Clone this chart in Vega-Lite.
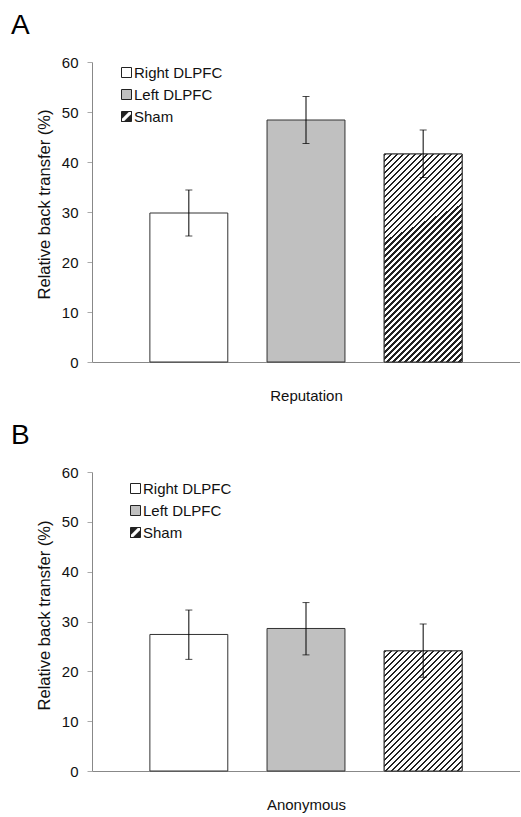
{
  "$schema": "https://vega.github.io/schema/vega-lite/v6.json",
  "padding": {"left": 11, "top": 12, "right": 0, "bottom": 5},
  "config": {
    "font": "Liberation Sans",
    "view": {"stroke": null},
    "axis": {"labelFont": "Liberation Sans", "titleFont": "Liberation Sans", "labelFontSize": 15, "titleFontSize": 15, "titleFontWeight": "normal", "labelColor": "#111", "titleColor": "#111", "grid": false, "domainColor": "#888"},
    "legend": {"orient": "none", "title": null, "symbolType": "square", "symbolSize": 100, "symbolStrokeColor": "#222", "symbolStrokeWidth": 1, "labelFont": "Liberation Sans", "labelFontSize": 15, "labelColor": "#111", "rowPadding": 6, "labelOffset": 0, "padding": 0}
  },
  "data": {"values": [
    {"panel": "A", "cond": "Right DLPFC", "mean": 29.8, "lo": 25.2, "hi": 34.4},
    {"panel": "A", "cond": "Left DLPFC", "mean": 48.4, "lo": 43.7, "hi": 53.1},
    {"panel": "A", "cond": "Sham", "mean": 41.6, "lo": 36.9, "hi": 46.4},
    {"panel": "B", "cond": "Right DLPFC", "mean": 27.4, "lo": 22.4, "hi": 32.3},
    {"panel": "B", "cond": "Left DLPFC", "mean": 28.6, "lo": 23.3, "hi": 33.8},
    {"panel": "B", "cond": "Sham", "mean": 24.1, "lo": 18.8, "hi": 29.5}
  ]},
  "spacing": 110,
  "bounds": "flush",
  "resolve": {"scale": {"color": "independent", "x": "independent", "y": "independent"}, "legend": {"color": "independent"}},
  "vconcat": [
    {
      "title": {"text": "A", "anchor": "start", "frame": "group", "dx": -81, "fontSize": 28, "fontWeight": "normal", "color": "#000", "offset": 15},
      "width": 428,
      "height": 300,
      "transform": [{"filter": "datum.panel === 'A'"}],
      "encoding": {
        "x": {"field": "cond", "type": "nominal", "sort": ["Right DLPFC", "Left DLPFC", "Sham"], "scale": {"paddingInner": 0.335, "paddingOuter": 0.494}, "axis": {"title": "Reputation", "labels": false, "ticks": false, "titlePadding": 26, "domainColor": "#888"}}
      },
      "layer": [
        {
          "mark": {"type": "bar", "stroke": "#333", "strokeWidth": 1},
          "encoding": {
            "y": {"field": "mean", "type": "quantitative", "title": "Relative back transfer (%)", "scale": {"domain": [0, 60]}, "axis": {"values": [0, 10, 20, 30, 40, 50, 60], "tickSize": 5, "tickColor": "#aaa", "labelPadding": 9, "titlePadding": 9, "titleY": 142, "titleFontSize": 16.5}},
            "color": {"field": "cond", "type": "nominal", "scale": {"domain": ["Right DLPFC", "Left DLPFC", "Sham"], "range": ["#ffffff", "#c0c0c0", "#222222"]}, "legend": {"legendX": 27, "legendY": 3, "encode": {"symbols": {"update": {"stroke": {"value": "#222"}, "strokeWidth": {"value": 1}, "shape": [{"test": "datum.value === 'Sham'", "value": "M-1,-1L1,-1L1,1L-1,1ZM-1,1L-0.45,1L1,-0.45L1,-1L0.45,-1L-1,0.45Z"}, {"value": "square"}]}}}}}
          }
        },
        {
          "transform": [{"filter": "datum.cond === 'Sham'"}],
          "mark": {"type": "bar", "stroke": "#333", "strokeWidth": 1, "fill": {"gradient": "linear", "x1": 0, "y1": 0, "x2": 0.4722, "y2": 1.2622, "stops": [
            {"offset":0,"color":"#222"},{"offset":0.008,"color":"#222"},{"offset":0.008,"color":"#fff"},{"offset":0.02,"color":"#fff"},
            {"offset":0.02,"color":"#222"},{"offset":0.028,"color":"#222"},{"offset":0.028,"color":"#fff"},{"offset":0.04,"color":"#fff"},
            {"offset":0.04,"color":"#222"},{"offset":0.048,"color":"#222"},{"offset":0.048,"color":"#fff"},{"offset":0.06,"color":"#fff"},
            {"offset":0.06,"color":"#222"},{"offset":0.068,"color":"#222"},{"offset":0.068,"color":"#fff"},{"offset":0.08,"color":"#fff"},
            {"offset":0.08,"color":"#222"},{"offset":0.088,"color":"#222"},{"offset":0.088,"color":"#fff"},{"offset":0.1,"color":"#fff"},
            {"offset":0.1,"color":"#222"},{"offset":0.108,"color":"#222"},{"offset":0.108,"color":"#fff"},{"offset":0.12,"color":"#fff"},
            {"offset":0.12,"color":"#222"},{"offset":0.128,"color":"#222"},{"offset":0.128,"color":"#fff"},{"offset":0.14,"color":"#fff"},
            {"offset":0.14,"color":"#222"},{"offset":0.148,"color":"#222"},{"offset":0.148,"color":"#fff"},{"offset":0.16,"color":"#fff"},
            {"offset":0.16,"color":"#222"},{"offset":0.168,"color":"#222"},{"offset":0.168,"color":"#fff"},{"offset":0.18,"color":"#fff"},
            {"offset":0.18,"color":"#222"},{"offset":0.188,"color":"#222"},{"offset":0.188,"color":"#fff"},{"offset":0.2,"color":"#fff"},
            {"offset":0.2,"color":"#222"},{"offset":0.208,"color":"#222"},{"offset":0.208,"color":"#fff"},{"offset":0.22,"color":"#fff"},
            {"offset":0.22,"color":"#222"},{"offset":0.228,"color":"#222"},{"offset":0.228,"color":"#fff"},{"offset":0.24,"color":"#fff"},
            {"offset":0.24,"color":"#222"},{"offset":0.248,"color":"#222"},{"offset":0.248,"color":"#fff"},{"offset":0.26,"color":"#fff"},
            {"offset":0.26,"color":"#222"},{"offset":0.268,"color":"#222"},{"offset":0.268,"color":"#fff"},{"offset":0.28,"color":"#fff"},
            {"offset":0.28,"color":"#222"},{"offset":0.288,"color":"#222"},{"offset":0.288,"color":"#fff"},{"offset":0.3,"color":"#fff"},
            {"offset":0.3,"color":"#222"},{"offset":0.308,"color":"#222"},{"offset":0.308,"color":"#fff"},{"offset":0.32,"color":"#fff"},
            {"offset":0.32,"color":"#222"},{"offset":0.328,"color":"#222"},{"offset":0.328,"color":"#fff"},{"offset":0.34,"color":"#fff"},
            {"offset":0.34,"color":"#222"},{"offset":0.348,"color":"#222"},{"offset":0.348,"color":"#fff"},{"offset":0.36,"color":"#fff"},
            {"offset":0.36,"color":"#222"},{"offset":0.368,"color":"#222"},{"offset":0.368,"color":"#fff"},{"offset":0.38,"color":"#fff"},
            {"offset":0.38,"color":"#222"},{"offset":0.388,"color":"#222"},{"offset":0.388,"color":"#fff"},{"offset":0.4,"color":"#fff"},
            {"offset":0.4,"color":"#222"},{"offset":0.408,"color":"#222"},{"offset":0.408,"color":"#fff"},{"offset":0.42,"color":"#fff"},
            {"offset":0.42,"color":"#222"},{"offset":0.428,"color":"#222"},{"offset":0.428,"color":"#fff"},{"offset":0.44,"color":"#fff"},
            {"offset":0.44,"color":"#222"},{"offset":0.448,"color":"#222"},{"offset":0.448,"color":"#fff"},{"offset":0.46,"color":"#fff"},
            {"offset":0.46,"color":"#222"},{"offset":0.468,"color":"#222"},{"offset":0.468,"color":"#fff"},{"offset":0.48,"color":"#fff"},
            {"offset":0.48,"color":"#222"},{"offset":0.488,"color":"#222"},{"offset":0.488,"color":"#fff"},{"offset":0.5,"color":"#fff"},
            {"offset":0.5,"color":"#222"},{"offset":0.508,"color":"#222"},{"offset":0.508,"color":"#fff"},{"offset":0.52,"color":"#fff"},
            {"offset":0.52,"color":"#222"},{"offset":0.528,"color":"#222"},{"offset":0.528,"color":"#fff"},{"offset":0.54,"color":"#fff"},
            {"offset":0.54,"color":"#222"},{"offset":0.548,"color":"#222"},{"offset":0.548,"color":"#fff"},{"offset":0.56,"color":"#fff"},
            {"offset":0.56,"color":"#222"},{"offset":0.568,"color":"#222"},{"offset":0.568,"color":"#fff"},{"offset":0.58,"color":"#fff"},
            {"offset":0.58,"color":"#222"},{"offset":0.588,"color":"#222"},{"offset":0.588,"color":"#fff"},{"offset":0.6,"color":"#fff"},
            {"offset":0.6,"color":"#222"},{"offset":0.608,"color":"#222"},{"offset":0.608,"color":"#fff"},{"offset":0.62,"color":"#fff"},
            {"offset":0.62,"color":"#222"},{"offset":0.628,"color":"#222"},{"offset":0.628,"color":"#fff"},{"offset":0.64,"color":"#fff"},
            {"offset":0.64,"color":"#222"},{"offset":0.648,"color":"#222"},{"offset":0.648,"color":"#fff"},{"offset":0.66,"color":"#fff"},
            {"offset":0.66,"color":"#222"},{"offset":0.668,"color":"#222"},{"offset":0.668,"color":"#fff"},{"offset":0.68,"color":"#fff"},
            {"offset":0.68,"color":"#222"},{"offset":0.688,"color":"#222"},{"offset":0.688,"color":"#fff"},{"offset":0.7,"color":"#fff"},
            {"offset":0.7,"color":"#222"},{"offset":0.708,"color":"#222"},{"offset":0.708,"color":"#fff"},{"offset":0.72,"color":"#fff"},
            {"offset":0.72,"color":"#222"},{"offset":0.728,"color":"#222"},{"offset":0.728,"color":"#fff"},{"offset":0.74,"color":"#fff"},
            {"offset":0.74,"color":"#222"},{"offset":0.748,"color":"#222"},{"offset":0.748,"color":"#fff"},{"offset":0.76,"color":"#fff"},
            {"offset":0.76,"color":"#222"},{"offset":0.768,"color":"#222"},{"offset":0.768,"color":"#fff"},{"offset":0.78,"color":"#fff"},
            {"offset":0.78,"color":"#222"},{"offset":0.788,"color":"#222"},{"offset":0.788,"color":"#fff"},{"offset":0.8,"color":"#fff"},
            {"offset":0.8,"color":"#222"},{"offset":0.808,"color":"#222"},{"offset":0.808,"color":"#fff"},{"offset":0.82,"color":"#fff"},
            {"offset":0.82,"color":"#222"},{"offset":0.828,"color":"#222"},{"offset":0.828,"color":"#fff"},{"offset":0.84,"color":"#fff"},
            {"offset":0.84,"color":"#222"},{"offset":0.848,"color":"#222"},{"offset":0.848,"color":"#fff"},{"offset":0.86,"color":"#fff"},
            {"offset":0.86,"color":"#222"},{"offset":0.868,"color":"#222"},{"offset":0.868,"color":"#fff"},{"offset":0.88,"color":"#fff"},
            {"offset":0.88,"color":"#222"},{"offset":0.888,"color":"#222"},{"offset":0.888,"color":"#fff"},{"offset":0.9,"color":"#fff"},
            {"offset":0.9,"color":"#222"},{"offset":0.908,"color":"#222"},{"offset":0.908,"color":"#fff"},{"offset":0.92,"color":"#fff"},
            {"offset":0.92,"color":"#222"},{"offset":0.928,"color":"#222"},{"offset":0.928,"color":"#fff"},{"offset":0.94,"color":"#fff"},
            {"offset":0.94,"color":"#222"},{"offset":0.948,"color":"#222"},{"offset":0.948,"color":"#fff"},{"offset":0.96,"color":"#fff"},
            {"offset":0.96,"color":"#222"},{"offset":0.968,"color":"#222"},{"offset":0.968,"color":"#fff"},{"offset":0.98,"color":"#fff"},
            {"offset":0.98,"color":"#222"},{"offset":0.988,"color":"#222"},{"offset":0.988,"color":"#fff"},{"offset":1,"color":"#fff"}
          ]}},
          "encoding": {"y": {"field": "mean", "type": "quantitative", "title": "Relative back transfer (%)"}}
        },
        {
          "mark": {"type": "rule", "color": "#000", "strokeWidth": 1},
          "encoding": {"y": {"field": "lo", "type": "quantitative", "title": "Relative back transfer (%)"}, "y2": {"field": "hi"}}
        },
        {
          "mark": {"type": "tick", "color": "#000", "size": 7, "thickness": 1},
          "encoding": {"y": {"field": "lo", "type": "quantitative", "title": "Relative back transfer (%)"}}
        },
        {
          "mark": {"type": "tick", "color": "#000", "size": 7, "thickness": 1},
          "encoding": {"y": {"field": "hi", "type": "quantitative", "title": "Relative back transfer (%)"}}
        }
      ]
    },
    {
      "title": {"text": "B", "anchor": "start", "frame": "group", "dx": -81, "fontSize": 28, "fontWeight": "normal", "color": "#000", "offset": 15},
      "width": 428,
      "height": 299,
      "transform": [{"filter": "datum.panel === 'B'"}],
      "encoding": {
        "x": {"field": "cond", "type": "nominal", "sort": ["Right DLPFC", "Left DLPFC", "Sham"], "scale": {"paddingInner": 0.335, "paddingOuter": 0.494}, "axis": {"title": "Anonymous", "labels": false, "ticks": false, "titlePadding": 26, "domainColor": "#888"}}
      },
      "layer": [
        {
          "mark": {"type": "bar", "stroke": "#333", "strokeWidth": 1},
          "encoding": {
            "y": {"field": "mean", "type": "quantitative", "title": "Relative back transfer (%)", "scale": {"domain": [0, 60]}, "axis": {"values": [0, 10, 20, 30, 40, 50, 60], "tickSize": 5, "tickColor": "#aaa", "labelPadding": 9, "titlePadding": 9, "titleY": 143, "titleFontSize": 16.5}},
            "color": {"field": "cond", "type": "nominal", "scale": {"domain": ["Right DLPFC", "Left DLPFC", "Sham"], "range": ["#ffffff", "#c0c0c0", "#222222"]}, "legend": {"legendX": 36, "legendY": 9, "encode": {"symbols": {"update": {"stroke": {"value": "#222"}, "strokeWidth": {"value": 1}, "shape": [{"test": "datum.value === 'Sham'", "value": "M-1,-1L1,-1L1,1L-1,1ZM-1,1L-0.45,1L1,-0.45L1,-1L0.45,-1L-1,0.45Z"}, {"value": "square"}]}}}}}
          }
        },
        {
          "transform": [{"filter": "datum.cond === 'Sham'"}],
          "mark": {"type": "bar", "stroke": "#333", "strokeWidth": 1, "fill": {"gradient": "linear", "x1": 0, "y1": 0, "x2": 1.141, "y2": 1.7569, "stops": [
            {"offset":0,"color":"#222"},{"offset":0.008,"color":"#222"},{"offset":0.008,"color":"#fff"},{"offset":0.02,"color":"#fff"},
            {"offset":0.02,"color":"#222"},{"offset":0.028,"color":"#222"},{"offset":0.028,"color":"#fff"},{"offset":0.04,"color":"#fff"},
            {"offset":0.04,"color":"#222"},{"offset":0.048,"color":"#222"},{"offset":0.048,"color":"#fff"},{"offset":0.06,"color":"#fff"},
            {"offset":0.06,"color":"#222"},{"offset":0.068,"color":"#222"},{"offset":0.068,"color":"#fff"},{"offset":0.08,"color":"#fff"},
            {"offset":0.08,"color":"#222"},{"offset":0.088,"color":"#222"},{"offset":0.088,"color":"#fff"},{"offset":0.1,"color":"#fff"},
            {"offset":0.1,"color":"#222"},{"offset":0.108,"color":"#222"},{"offset":0.108,"color":"#fff"},{"offset":0.12,"color":"#fff"},
            {"offset":0.12,"color":"#222"},{"offset":0.128,"color":"#222"},{"offset":0.128,"color":"#fff"},{"offset":0.14,"color":"#fff"},
            {"offset":0.14,"color":"#222"},{"offset":0.148,"color":"#222"},{"offset":0.148,"color":"#fff"},{"offset":0.16,"color":"#fff"},
            {"offset":0.16,"color":"#222"},{"offset":0.168,"color":"#222"},{"offset":0.168,"color":"#fff"},{"offset":0.18,"color":"#fff"},
            {"offset":0.18,"color":"#222"},{"offset":0.188,"color":"#222"},{"offset":0.188,"color":"#fff"},{"offset":0.2,"color":"#fff"},
            {"offset":0.2,"color":"#222"},{"offset":0.208,"color":"#222"},{"offset":0.208,"color":"#fff"},{"offset":0.22,"color":"#fff"},
            {"offset":0.22,"color":"#222"},{"offset":0.228,"color":"#222"},{"offset":0.228,"color":"#fff"},{"offset":0.24,"color":"#fff"},
            {"offset":0.24,"color":"#222"},{"offset":0.248,"color":"#222"},{"offset":0.248,"color":"#fff"},{"offset":0.26,"color":"#fff"},
            {"offset":0.26,"color":"#222"},{"offset":0.268,"color":"#222"},{"offset":0.268,"color":"#fff"},{"offset":0.28,"color":"#fff"},
            {"offset":0.28,"color":"#222"},{"offset":0.288,"color":"#222"},{"offset":0.288,"color":"#fff"},{"offset":0.3,"color":"#fff"},
            {"offset":0.3,"color":"#222"},{"offset":0.308,"color":"#222"},{"offset":0.308,"color":"#fff"},{"offset":0.32,"color":"#fff"},
            {"offset":0.32,"color":"#222"},{"offset":0.328,"color":"#222"},{"offset":0.328,"color":"#fff"},{"offset":0.34,"color":"#fff"},
            {"offset":0.34,"color":"#222"},{"offset":0.348,"color":"#222"},{"offset":0.348,"color":"#fff"},{"offset":0.36,"color":"#fff"},
            {"offset":0.36,"color":"#222"},{"offset":0.368,"color":"#222"},{"offset":0.368,"color":"#fff"},{"offset":0.38,"color":"#fff"},
            {"offset":0.38,"color":"#222"},{"offset":0.388,"color":"#222"},{"offset":0.388,"color":"#fff"},{"offset":0.4,"color":"#fff"},
            {"offset":0.4,"color":"#222"},{"offset":0.408,"color":"#222"},{"offset":0.408,"color":"#fff"},{"offset":0.42,"color":"#fff"},
            {"offset":0.42,"color":"#222"},{"offset":0.428,"color":"#222"},{"offset":0.428,"color":"#fff"},{"offset":0.44,"color":"#fff"},
            {"offset":0.44,"color":"#222"},{"offset":0.448,"color":"#222"},{"offset":0.448,"color":"#fff"},{"offset":0.46,"color":"#fff"},
            {"offset":0.46,"color":"#222"},{"offset":0.468,"color":"#222"},{"offset":0.468,"color":"#fff"},{"offset":0.48,"color":"#fff"},
            {"offset":0.48,"color":"#222"},{"offset":0.488,"color":"#222"},{"offset":0.488,"color":"#fff"},{"offset":0.5,"color":"#fff"},
            {"offset":0.5,"color":"#222"},{"offset":0.508,"color":"#222"},{"offset":0.508,"color":"#fff"},{"offset":0.52,"color":"#fff"},
            {"offset":0.52,"color":"#222"},{"offset":0.528,"color":"#222"},{"offset":0.528,"color":"#fff"},{"offset":0.54,"color":"#fff"},
            {"offset":0.54,"color":"#222"},{"offset":0.548,"color":"#222"},{"offset":0.548,"color":"#fff"},{"offset":0.56,"color":"#fff"},
            {"offset":0.56,"color":"#222"},{"offset":0.568,"color":"#222"},{"offset":0.568,"color":"#fff"},{"offset":0.58,"color":"#fff"},
            {"offset":0.58,"color":"#222"},{"offset":0.588,"color":"#222"},{"offset":0.588,"color":"#fff"},{"offset":0.6,"color":"#fff"},
            {"offset":0.6,"color":"#222"},{"offset":0.608,"color":"#222"},{"offset":0.608,"color":"#fff"},{"offset":0.62,"color":"#fff"},
            {"offset":0.62,"color":"#222"},{"offset":0.628,"color":"#222"},{"offset":0.628,"color":"#fff"},{"offset":0.64,"color":"#fff"},
            {"offset":0.64,"color":"#222"},{"offset":0.648,"color":"#222"},{"offset":0.648,"color":"#fff"},{"offset":0.66,"color":"#fff"},
            {"offset":0.66,"color":"#222"},{"offset":0.668,"color":"#222"},{"offset":0.668,"color":"#fff"},{"offset":0.68,"color":"#fff"},
            {"offset":0.68,"color":"#222"},{"offset":0.688,"color":"#222"},{"offset":0.688,"color":"#fff"},{"offset":1,"color":"#fff"}
          ]}},
          "encoding": {"y": {"field": "mean", "type": "quantitative", "title": "Relative back transfer (%)"}}
        },
        {
          "mark": {"type": "rule", "color": "#000", "strokeWidth": 1},
          "encoding": {"y": {"field": "lo", "type": "quantitative", "title": "Relative back transfer (%)"}, "y2": {"field": "hi"}}
        },
        {
          "mark": {"type": "tick", "color": "#000", "size": 7, "thickness": 1},
          "encoding": {"y": {"field": "lo", "type": "quantitative", "title": "Relative back transfer (%)"}}
        },
        {
          "mark": {"type": "tick", "color": "#000", "size": 7, "thickness": 1},
          "encoding": {"y": {"field": "hi", "type": "quantitative", "title": "Relative back transfer (%)"}}
        }
      ]
    }
  ]
}
